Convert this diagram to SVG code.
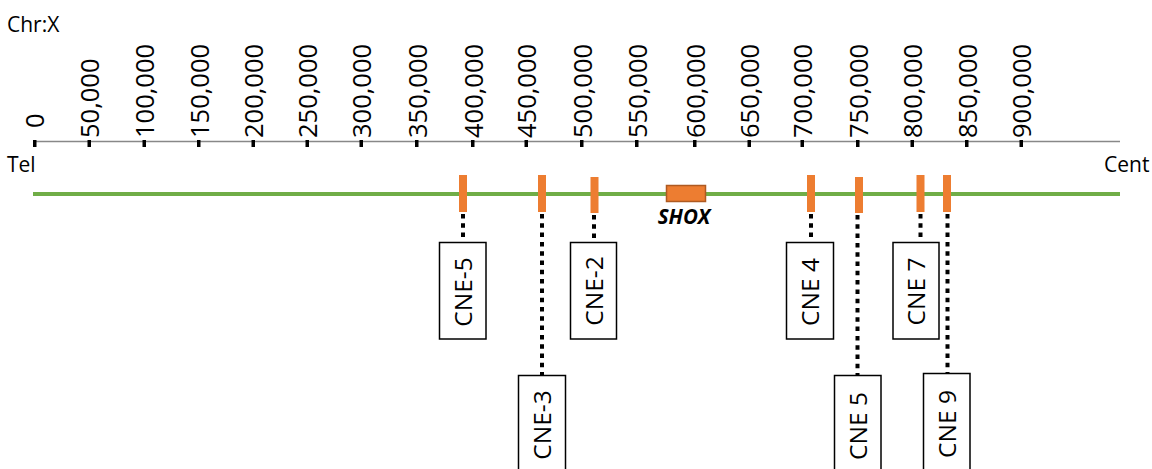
<svg xmlns="http://www.w3.org/2000/svg" width="1152" height="469" viewBox="0 0 1152 469">
<style>
text{font-family:"Open Sans","Liberation Sans",sans-serif;fill:#000}
.lbl{font-size:25.5px;text-anchor:start}
.t20{font-size:21px}
.box{fill:#fff;stroke:#000;stroke-width:1.5}
.mark{fill:#ED7D31}
.boxt{font-size:24.5px;text-anchor:middle}
.conn{stroke:#000;stroke-width:4;stroke-dasharray:4.5 4.8;fill:none}
.tick{fill:#000}
</style>
<rect width="1152" height="469" fill="#fff"/>
<g id="axis">
<text class="t20" x="7" y="31.7">Chr:X</text>
<line x1="33" y1="141.5" x2="1120" y2="141.5" stroke="#888" stroke-width="1.5"/>
<g class="tick">
<rect x="33" y="140" width="3.5" height="7"/>
<rect x="87.5" y="140" width="3.5" height="7"/>
<rect x="142.5" y="140" width="3.5" height="7"/>
<rect x="197" y="140" width="3.5" height="7"/>
<rect x="251.5" y="140" width="3.5" height="7"/>
<rect x="305.5" y="140" width="3.5" height="7"/>
<rect x="359.5" y="140" width="3.5" height="7"/>
<rect x="415" y="140" width="3.5" height="7"/>
<rect x="471" y="140" width="3.5" height="7"/>
<rect x="524.5" y="140" width="3.5" height="7"/>
<rect x="580" y="140" width="3.5" height="7"/>
<rect x="635" y="140" width="3.5" height="7"/>
<rect x="693" y="140" width="3.5" height="7"/>
<rect x="747.5" y="140" width="3.5" height="7"/>
<rect x="800.5" y="140" width="3.5" height="7"/>
<rect x="856" y="140" width="3.5" height="7"/>
<rect x="910.5" y="140" width="3.5" height="7"/>
<rect x="965" y="140" width="3.5" height="7"/>
<rect x="1019.5" y="140" width="3.5" height="7"/>
</g>
<text class="lbl" transform="translate(44,128) rotate(-90)">0</text>
<text class="lbl" transform="translate(99,138) rotate(-90)">50,000</text>
<text class="lbl" transform="translate(154,138) rotate(-90)">100,000</text>
<text class="lbl" transform="translate(208.5,138) rotate(-90)">150,000</text>
<text class="lbl" transform="translate(263,138) rotate(-90)">200,000</text>
<text class="lbl" transform="translate(317,138) rotate(-90)">250,000</text>
<text class="lbl" transform="translate(371,138) rotate(-90)">300,000</text>
<text class="lbl" transform="translate(426.5,138) rotate(-90)">350,000</text>
<text class="lbl" transform="translate(482.5,138) rotate(-90)">400,000</text>
<text class="lbl" transform="translate(536,138) rotate(-90)">450,000</text>
<text class="lbl" transform="translate(591.5,138) rotate(-90)">500,000</text>
<text class="lbl" transform="translate(646.5,138) rotate(-90)">550,000</text>
<text class="lbl" transform="translate(704.5,138) rotate(-90)">600,000</text>
<text class="lbl" transform="translate(759,138) rotate(-90)">650,000</text>
<text class="lbl" transform="translate(812,138) rotate(-90)">700,000</text>
<text class="lbl" transform="translate(867.5,138) rotate(-90)">750,000</text>
<text class="lbl" transform="translate(922,138) rotate(-90)">800,000</text>
<text class="lbl" transform="translate(976.5,138) rotate(-90)">850,000</text>
<text class="lbl" transform="translate(1031,138) rotate(-90)">900,000</text>
</g>
<g id="chromosome">
<text class="t20" x="7" y="172">Tel</text>
<text class="t20" x="1104" y="172">Cent</text>
<line x1="33" y1="194" x2="1120" y2="194" stroke="#70AD47" stroke-width="4"/>
</g>
<g id="connectors">
<line class="conn" x1="463" y1="214" x2="463" y2="242"/>
<line class="conn" x1="542" y1="214" x2="542" y2="375"/>
<line class="conn" x1="594" y1="215" x2="594" y2="242"/>
<line class="conn" x1="811" y1="214" x2="811" y2="242"/>
<line class="conn" x1="857.5" y1="215" x2="857.5" y2="375"/>
<line class="conn" x1="920.5" y1="214" x2="920.5" y2="242"/>
<line class="conn" x1="947.5" y1="214" x2="947.5" y2="373"/>
</g>
<g id="SHOX">
<rect x="666.5" y="185.5" width="39" height="16" fill="#ED7D31" stroke="#AE5A21" stroke-width="1.5"/>
<text x="684" y="223.5" font-size="20.5" font-weight="bold" font-style="italic" text-anchor="middle">SHOX</text>
</g>
<g id="CNE-5">
<rect class="mark" x="459" y="175" width="8" height="37"/>
<rect class="box" x="439.5" y="242.5" width="46.5" height="96.5"/>
<text class="boxt" transform="translate(471.5,292) rotate(-90)">CNE-5</text>
</g>
<g id="CNE-3">
<rect class="mark" x="538" y="175" width="8" height="37"/>
<rect class="box" x="518.5" y="375.5" width="47" height="100"/>
<text class="boxt" transform="translate(551,425) rotate(-90)">CNE-3</text>
</g>
<g id="CNE-2">
<rect class="mark" x="590.5" y="177" width="8" height="36"/>
<rect class="box" x="570.5" y="242.5" width="46" height="96.5"/>
<text class="boxt" transform="translate(602.5,291) rotate(-90)">CNE-2</text>
</g>
<g id="CNE4">
<rect class="mark" x="807" y="175" width="8" height="37"/>
<rect class="box" x="786.5" y="242.5" width="47" height="96.5"/>
<text class="boxt" transform="translate(819,292) rotate(-90)">CNE 4</text>
</g>
<g id="CNE5">
<rect class="mark" x="855" y="177" width="8" height="36"/>
<rect class="box" x="834.5" y="375.5" width="46.5" height="100"/>
<text class="boxt" transform="translate(866.5,426) rotate(-90)">CNE 5</text>
</g>
<g id="CNE7">
<rect class="mark" x="916.5" y="175" width="8" height="37"/>
<rect class="box" x="893" y="242.5" width="46" height="96.5"/>
<text class="boxt" transform="translate(925,291.5) rotate(-90)">CNE 7</text>
</g>
<g id="CNE9">
<rect class="mark" x="943" y="175" width="8" height="37"/>
<rect class="box" x="923.5" y="373.5" width="46.5" height="102"/>
<text class="boxt" transform="translate(955.5,424) rotate(-90)">CNE 9</text>
</g>
</svg>
